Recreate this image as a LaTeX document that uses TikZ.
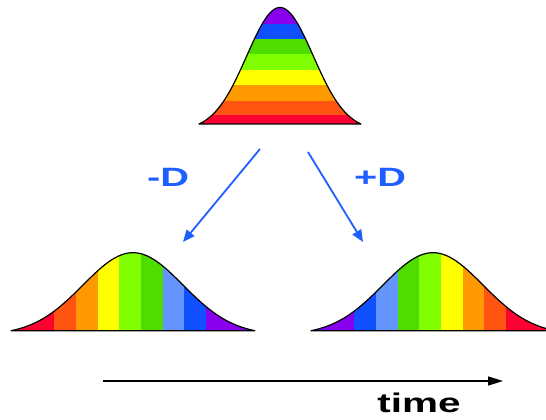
\documentclass[tikz,border=0pt]{standalone}
\usepackage{fontspec}
\setmainfont{Liberation Sans}
\usetikzlibrary{arrows.meta}
\definecolor{cred}{HTML}{FF0033}
\definecolor{corangered}{HTML}{FF5511}
\definecolor{corange}{HTML}{FF9900}
\definecolor{cyellow}{HTML}{FFFF00}
\definecolor{clgreen}{HTML}{80FF00}
\definecolor{cdgreen}{HTML}{4FDD00}
\definecolor{clblue}{HTML}{6495FF}
\definecolor{cblue}{HTML}{1050FF}
\definecolor{cpurple}{HTML}{8800EE}
\definecolor{arrowblue}{HTML}{1F5FFF}
% bell path: center x, baseline y, height, half-length
\newcommand\bellcurve[4]{plot[domain=-1:1,samples=120] ({#1+#4*\x},{#2-#3*(exp(-((\x)*(\x))/0.3362)-0.051)/0.949}) -- cycle}
\begin{document}
\begin{tikzpicture}[x=1pt,y=-1pt,
  outline/.style={draw=black,line width=1.2pt,line join=round},
  bluearrow/.style={draw=arrowblue,line width=1.8pt,-{Triangle[length=12pt,width=10pt]}},
  timearrow/.style={draw=black,line width=1.5pt,-{Triangle[length=15pt,width=9pt]}},
  dlabel/.style={text=arrowblue,font=\fontsize{26.5}{30}\selectfont\bfseries,xscale=1.5,inner sep=0pt},
  tlabel/.style={text=black,font=\fontsize{27}{30}\selectfont\bfseries,xscale=1.5,inner sep=0pt}]
\useasboundingbox (0,0) rectangle (546,420);
\clip (0,0) rectangle (546,420);

% top bell
\begin{scope}
  \clip \bellcurve{280}{124}{116.5}{81};
  \fill[cpurple] (190,0) rectangle (370,24);
  \fill[cblue] (190,24) rectangle (370,39);
  \fill[cdgreen] (190,39) rectangle (370,54);
  \fill[clgreen] (190,54) rectangle (370,70);
  \fill[cyellow] (190,70) rectangle (370,85);
  \fill[corange] (190,85) rectangle (370,101);
  \fill[corangered] (190,101) rectangle (370,115);
  \fill[cred] (190,115) rectangle (370,126);
\end{scope}
\draw[outline] \bellcurve{280}{124}{116.5}{81};

% bottom-left bell
\begin{scope}
  \clip \bellcurve{133}{330.7}{78}{122};
  \fill[cred] (0,240) rectangle (54.3,335);
  \fill[corangered] (54.3,240) rectangle (76,335);
  \fill[corange] (76,240) rectangle (97.7,335);
  \fill[cyellow] (97.7,240) rectangle (119.3,335);
  \fill[clgreen] (119.3,240) rectangle (141,335);
  \fill[cdgreen] (141,240) rectangle (162.7,335);
  \fill[clblue] (162.7,240) rectangle (184.3,335);
  \fill[cblue] (184.3,240) rectangle (206,335);
  \fill[cpurple] (206,240) rectangle (270,335);
\end{scope}
\draw[outline] \bellcurve{133}{330.7}{78}{122};

% bottom-right bell
\begin{scope}
  \clip \bellcurve{433}{330.7}{78}{122};
  \fill[cpurple] (300,240) rectangle (354.3,335);
  \fill[cblue] (354.3,240) rectangle (376,335);
  \fill[clblue] (376,240) rectangle (397.7,335);
  \fill[cdgreen] (397.7,240) rectangle (419.3,335);
  \fill[clgreen] (419.3,240) rectangle (441,335);
  \fill[cyellow] (441,240) rectangle (462.7,335);
  \fill[corange] (462.7,240) rectangle (484.3,335);
  \fill[corangered] (484.3,240) rectangle (506,335);
  \fill[cred] (506,240) rectangle (570,335);
\end{scope}
\draw[outline] \bellcurve{433}{330.7}{78}{122};

% arrows
\coordinate (lstart) at (260,149);
\coordinate (lend) at (183,242);
\coordinate (rstart) at (308,152);
\coordinate (rend) at (363,242);
\draw[bluearrow] (lstart) -- (lend);
\draw[bluearrow] (rstart) -- (rend);

\node[dlabel] (minusD) at (168,177) {-D};
\node[dlabel] (plusD) at (380,177) {+D};

\coordinate (tstart) at (103,381);
\coordinate (tend) at (503,381);
\draw[timearrow] (tstart) -- (tend);
\node[tlabel] (time) at (419,403) {time};
\end{tikzpicture}
\end{document}
